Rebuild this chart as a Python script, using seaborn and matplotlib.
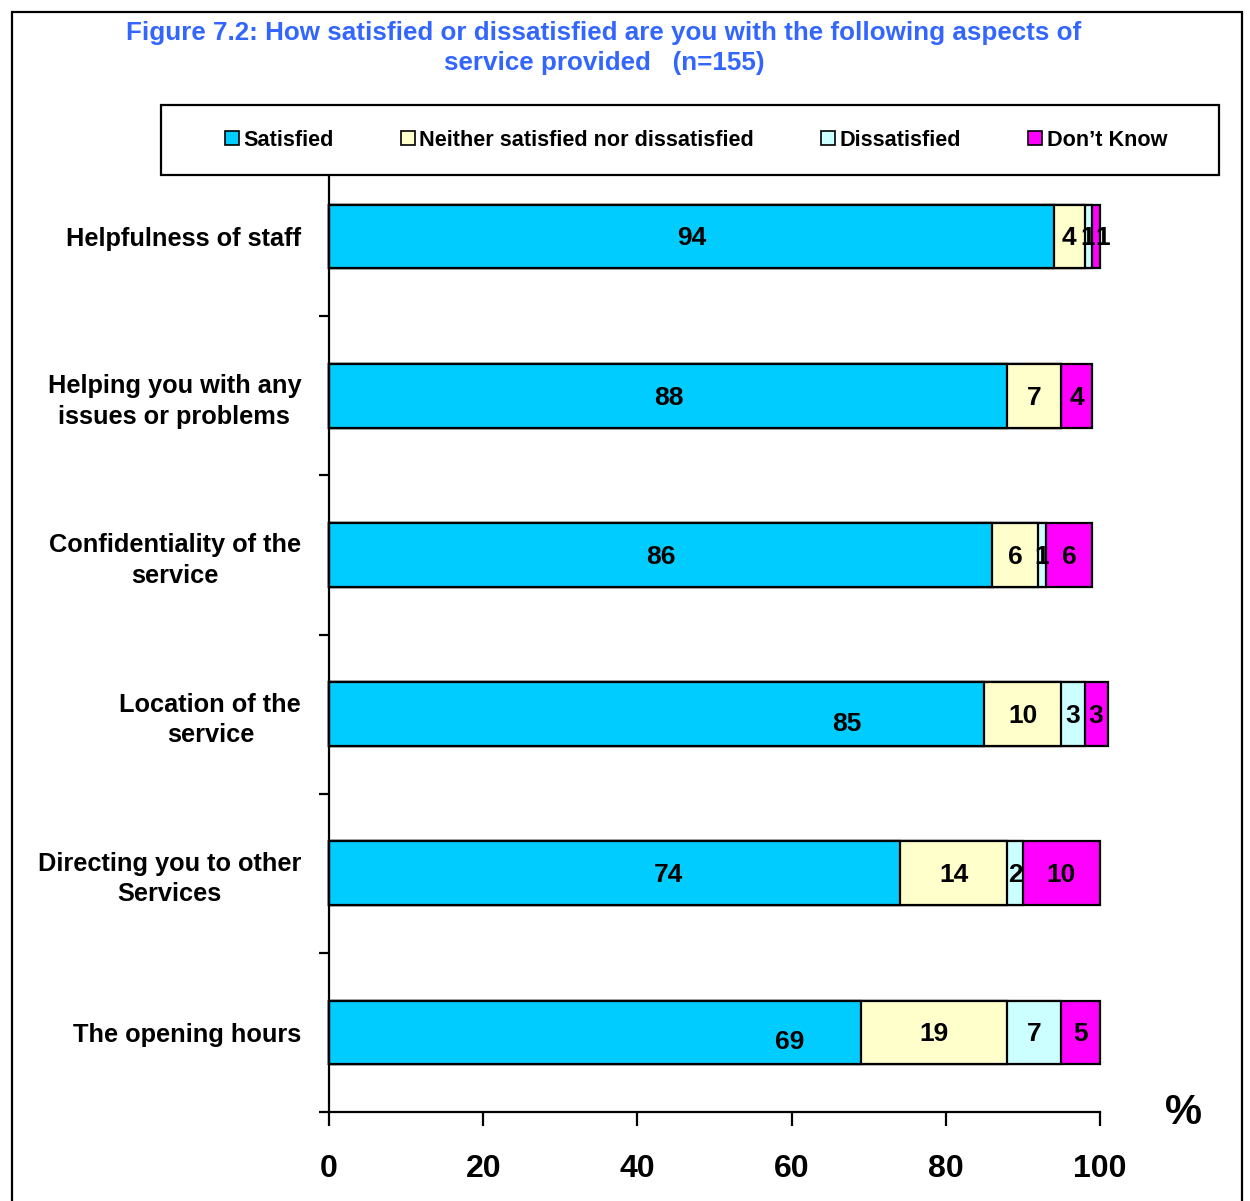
import numpy as np
import pandas as pd
import matplotlib
matplotlib.use("Agg")
import matplotlib.pyplot as plt
from matplotlib.patches import Patch, Rectangle
import seaborn as sns

# Survey results (% of respondents, n=155)
categories = [
    "Helpfulness of staff",
    "Helping you with any\nissues or problems",
    "Confidentiality of the\nservice",
    "Location of the\nservice",
    "Directing you to other\nServices",
    "The opening hours",
]
satisfied = [94, 88, 86, 85, 74, 69]
neither = [4, 7, 6, 10, 14, 19]
dissatisfied = [1, 0, 1, 3, 2, 7]
dont_know = [1, 4, 6, 3, 10, 5]
series_names = ["Satisfied", "Neither satisfied nor dissatisfied", "Dissatisfied", "Don\u2019t Know"]
x_ticks = [0, 20, 40, 60, 80, 100]

colors = ["#00CCFF", "#FFFFCC", "#CCFFFF", "#FF00FF"]
# placement of the "Satisfied" labels (x in %, y offset in bar units)
sat_label_pos = [(47.1, 0.0), (44.1, 0.0), (43.1, 0.0), (67.1, 0.05), (44.0, 0.0), (59.8, 0.05)]
# horizontal nudges (in %) for labels on very thin neighbouring segments
label_nudge = {(0, 2): -0.1, (0, 3): 0.9}

sns.set_theme(style="white")
plt.rcParams["font.family"] = ["Liberation Sans", "DejaVu Sans"]
plt.rcParams["font.weight"] = "bold"
plt.rcParams["text.color"] = "black"
plt.rcParams["xtick.color"] = "black"
plt.rcParams["ytick.color"] = "black"
plt.rcParams["xtick.labelcolor"] = "black"
plt.rcParams["ytick.labelcolor"] = "black"

W, H = 1250, 1201
fig = plt.figure(figsize=(W / 100, H / 100), dpi=100)
ax = fig.add_axes([329 / W, 1 - 1112 / H, (1100 - 329) / W, (1112 - 157) / H])

series = [satisfied, neither, dissatisfied, dont_know]
cum = np.cumsum(np.array(series, dtype=float), axis=0)

# stacked bars: draw cumulative totals from the outermost segment inwards
df = pd.DataFrame({"category": categories})
for i in range(3, -1, -1):
    df["total"] = cum[i]
    sns.barplot(data=df, x="total", y="category", orient="h", order=categories,
                color=colors[i], saturation=1, width=0.4, errorbar=None,
                edgecolor="black", linewidth=1.6, clip_on=False, ax=ax)

# segment value labels
for j in range(len(categories)):
    for i, vals in enumerate(series):
        v = vals[j]
        if v <= 0:
            continue
        if i == 0:
            x, dy = sat_label_pos[j]
        else:
            x, dy = cum[i][j] - v / 2, 0.0
        x += label_nudge.get((j, i), 0.0)
        ax.text(x, j + dy + 0.012, f"{v}", ha="center", va="center", fontsize=19,
                fontweight="bold", color="black", zorder=10, clip_on=False)

ax.set_xlim(0, 100)
ax.set_ylim(len(categories) - 0.5, -0.5)
ax.set_xlabel("")
ax.set_ylabel("")
ax.grid(False)
for s in ["top", "right"]:
    ax.spines[s].set_visible(False)
for s in ["left", "bottom"]:
    ax.spines[s].set_color("black")
    ax.spines[s].set_linewidth(1.6)

ax.set_xticks(x_ticks)
ax.set_xticklabels([str(t) for t in x_ticks])
ax.tick_params(axis="x", which="major", bottom=True, length=10, width=1.6,
               color="black", direction="out", labelsize=23, pad=20,
               labelcolor="black")

ax.set_yticks(range(len(categories)))
ax.set_yticklabels(categories, fontsize=18.3, fontweight="bold",
                   multialignment="center", color="black")
ax.tick_params(axis="y", which="major", length=0, pad=20)
ax.set_yticks(np.arange(-0.5, len(categories), 1), minor=True)
ax.tick_params(axis="y", which="minor", left=True, length=7, width=1.6,
               color="black", direction="out")
for lab in ax.get_yticklabels():
    lab.set_linespacing(1.35)

# title
fig.text(604 / W, 1 - 48 / H,
         "Figure 7.2: How satisfied or dissatisfied are you with the following aspects of\n"
         "service provided   (n=155)",
         ha="center", va="center", color="#3366FF", fontsize=18.7, fontweight="bold",
         linespacing=1.3)

# legend box
fig.patches.append(Rectangle((161 / W, 1 - 175 / H), (1219 - 161) / W, 70 / H,
                             transform=fig.transFigure, facecolor="white",
                             edgecolor="black", linewidth=1.6, zorder=5))
handles = [Patch(facecolor=c, edgecolor="black", linewidth=1.2) for c in colors]
leg = fig.legend(handles, series_names, loc="center", ncol=4,
                 bbox_to_anchor=(696 / W, 1 - 140 / H), frameon=False,
                 fontsize=15.6, handlelength=0.65, handleheight=0.65,
                 handletextpad=0.2, columnspacing=3.1)
leg.set_zorder(6)
for t in leg.get_texts():
    t.set_fontweight("bold")
    t.set_color("black")

# axis unit
fig.text(1183 / W, 1 - 1113 / H, "%", ha="center", va="center",
         fontsize=30, fontweight="bold", color="black")

# outer border
fig.patches.append(Rectangle((12 / W, -0.01), (1242 - 12) / W, 1 - 12 / H + 0.01,
                             transform=fig.transFigure, fill=False,
                             edgecolor="black", linewidth=1.6, zorder=7))

fig.savefig("out.png", dpi=100, facecolor="white")
